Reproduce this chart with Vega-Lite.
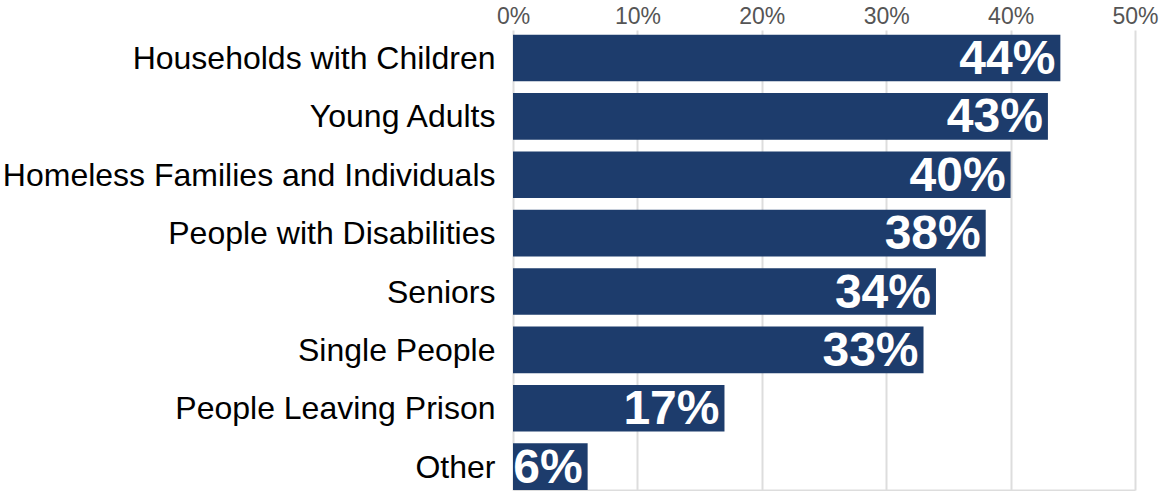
{
  "$schema": "https://vega.github.io/schema/vega-lite/v6.json",
  "autosize": {"type": "none"},
  "width": 622,
  "height": 460,
  "padding": {"left": 513, "top": 30, "right": 28, "bottom": 1},
  "background": "white",
  "view": {"stroke": null},
  "config": {"font": "Liberation Sans"},
  "data": {"values": [
    {"group": "Households with Children", "value": 0.44},
    {"group": "Young Adults", "value": 0.43},
    {"group": "Homeless Families and Individuals", "value": 0.40},
    {"group": "People with Disabilities", "value": 0.38},
    {"group": "Seniors", "value": 0.34},
    {"group": "Single People", "value": 0.33},
    {"group": "People Leaving Prison", "value": 0.17},
    {"group": "Other", "value": 0.06}
  ]},
  "encoding": {
    "y": {
      "field": "group", "type": "nominal", "sort": null, "title": null,
      "scale": {"paddingInner": 0.2, "paddingOuter": 0.04, "align": 1},
      "axis": {"ticks": false, "domain": false, "labelFontSize": 32, "labelColor": "#000000", "labelPadding": 18, "labelLimit": 0, "labelFont": "Liberation Sans", "labelOffset": 1}
    }
  },
  "layer": [
    {
      "mark": {"type": "bar", "color": "#1d3c6c"},
      "encoding": {
        "x": {
          "field": "value", "type": "quantitative", "title": null,
          "scale": {"domain": [0, 0.5], "nice": false},
          "axis": {"orient": "top", "format": ".0%", "values": [0, 0.1, 0.2, 0.3, 0.4, 0.5], "ticks": false, "domain": false, "labelFontSize": 23, "labelColor": "#555555", "labelPadding": 7, "labelBaseline": "alphabetic", "gridColor": "#dddddd", "gridWidth": 2, "labelFont": "Liberation Sans", "labelFlush": false}
        }
      }
    },
    {
      "mark": {"type": "text", "align": "right", "baseline": "middle", "dx": -5, "dy": 2, "fontSize": 48, "fontWeight": "bold", "color": "white", "font": "Liberation Sans"},
      "encoding": {
        "x": {
          "field": "value", "type": "quantitative",
          "axis": {"orient": "bottom", "labels": false, "ticks": false, "grid": false, "title": null, "domain": true, "domainColor": "#dddddd", "domainWidth": 2}
        },
        "text": {"field": "value", "type": "quantitative", "format": ".0%"}
      }
    }
  ],
  "resolve": {"axis": {"x": "independent"}}
}
